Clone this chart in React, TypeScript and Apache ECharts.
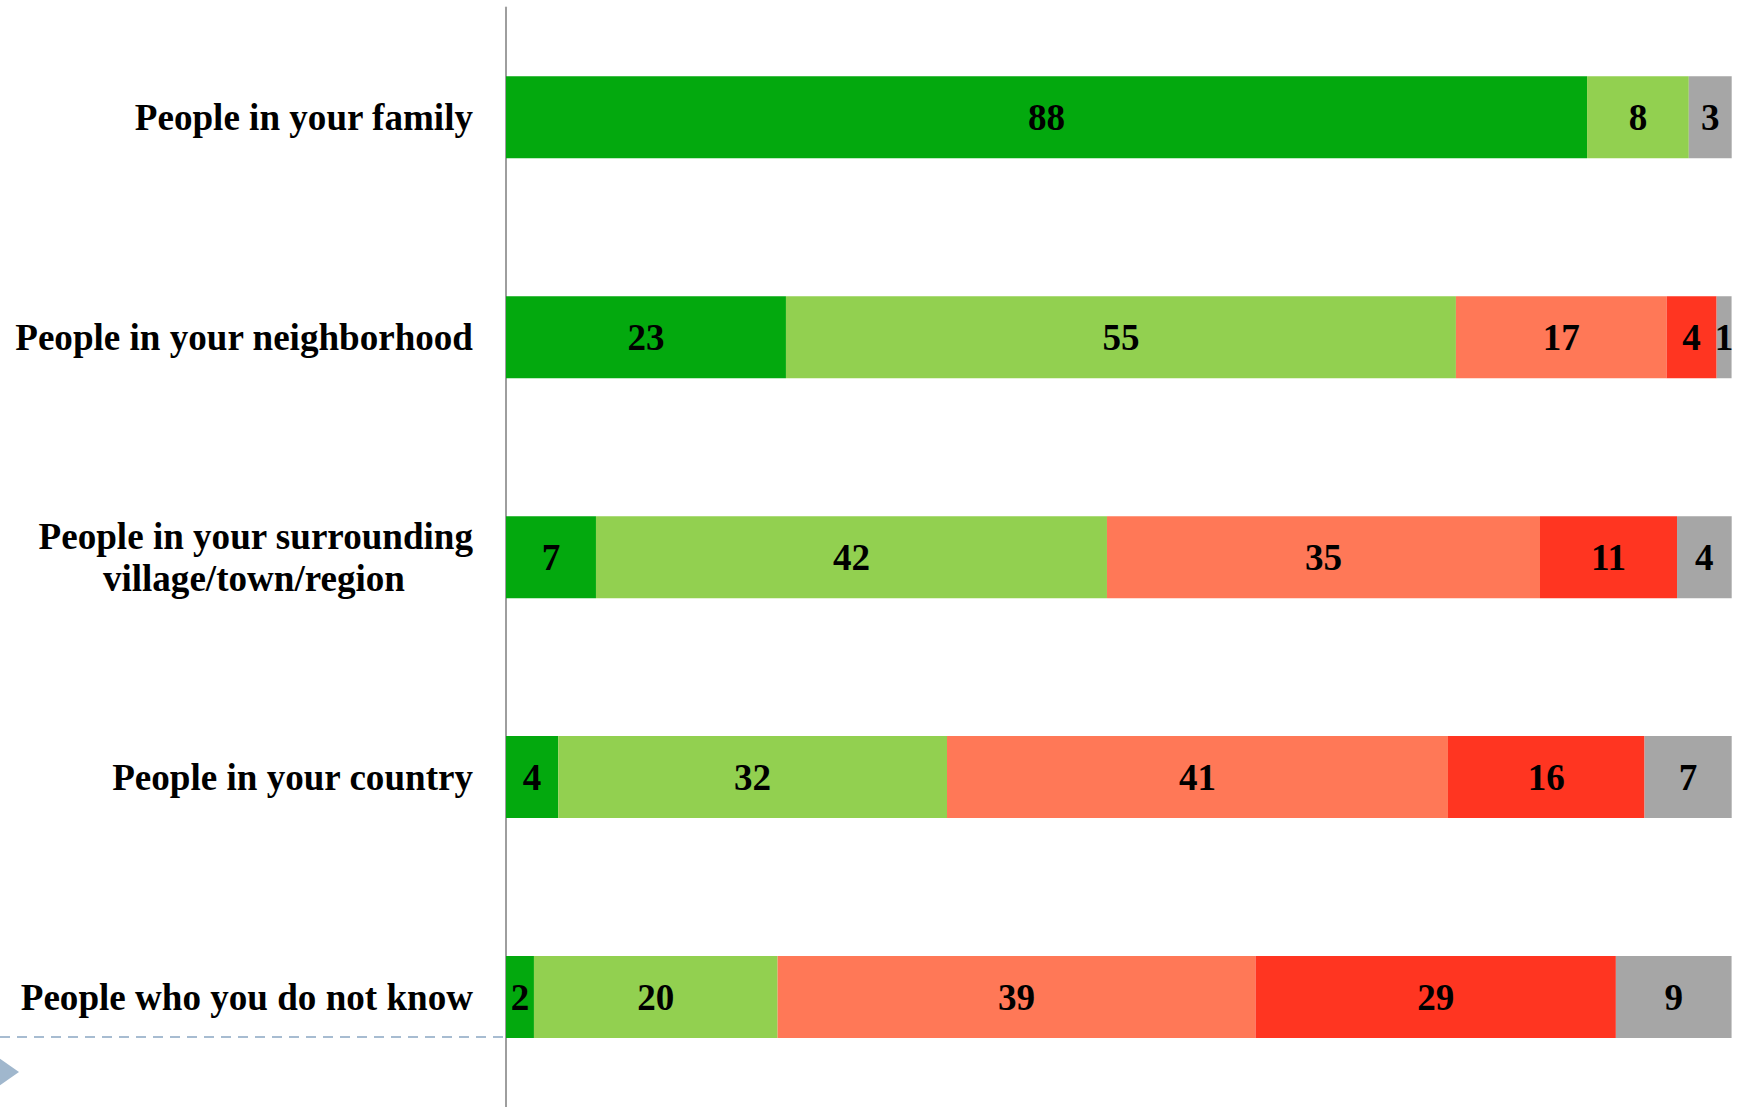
import React, { useEffect, useRef } from "react";
import * as echarts from "echarts";

const categories = [
  "People in your family",
  "People in your neighborhood",
  "People in your surrounding\nvillage/town/region",
  "People in your country",
  "People who you do not know",
];

// Segment shares (percent of each bar)
const trustCompletely = [88.2, 22.84, 7.34, 4.26, 2.28];
const trustSomewhat = [8.3, 54.66, 41.69, 31.72, 19.88];
const notVeryMuch = [null, 17.19, 35.33, 40.87, 38.99];
const notAtAll = [null, 4.08, 11.18, 16.04, 29.4];
const dontKnow = [3.5, 1.22, 4.46, 7.13, 9.44];

// Printed numbers on the segments
const trustCompletelyLabels = [88, 23, 7, 4, 2];
const trustSomewhatLabels = [8, 55, 42, 32, 20];
const notVeryMuchLabels = [null, 17, 35, 41, 39];
const notAtAllLabels = [null, 4, 11, 16, 29];
const dontKnowLabels = [3, 1, 4, 7, 9];

const seriesDefs = [
  { name: "Trust completely", data: trustCompletely, labels: trustCompletelyLabels, color: "#03A90E" },
  { name: "Trust somewhat", data: trustSomewhat, labels: trustSomewhatLabels, color: "#92D050" },
  { name: "Do not trust very much", data: notVeryMuch, labels: notVeryMuchLabels, color: "#FF7857" },
  { name: "Do not trust at all", data: notAtAll, labels: notAtAllLabels, color: "#FF3521" },
  { name: "Don't know", data: dontKnow, labels: dontKnowLabels, color: "#A6A6A6" },
];

const FONT = "'Liberation Serif', 'Times New Roman', serif";
const FS = 37.1;

export default function App() {
  const ref = useRef<HTMLDivElement>(null);

  useEffect(() => {
    document.body.style.margin = "0";
    const chart = echarts.init(ref.current!, null, { renderer: "svg" });
    chart.setOption({
      animation: false,
      backgroundColor: "#ffffff",
      grid: { left: 506, right: 10.3, top: 7.4, height: 1108, containLabel: false },
      xAxis: {
        type: "value",
        min: 0,
        max: 100,
        show: false,
      },
      yAxis: {
        type: "category",
        data: categories,
        inverse: true,
        axisLine: { show: true, lineStyle: { color: "#9E9E9E", width: 2 } },
        axisTick: { show: false },
        splitLine: { show: false },
        axisLabel: {
          margin: 33,
          color: "#000",
          fontFamily: FONT,
          fontWeight: "bold",
          fontSize: FS,
          lineHeight: 42,
          formatter: (v: string) => {
            if (v.indexOf("\n") >= 0) {
              const [a, b] = v.split("\n");
              return `{a|${a}}\n{b|${b}}`;
            }
            return v;
          },
          rich: {
            a: { fontFamily: FONT, fontWeight: "bold", fontSize: FS, lineHeight: 42, color: "#000" },
            b: {
              fontFamily: FONT,
              fontWeight: "bold",
              fontSize: FS,
              lineHeight: 42,
              color: "#000",
              padding: [0, 68, 0, 0],
            },
          },
        },
      },
      series: seriesDefs.map((s) => ({
        name: s.name,
        type: "bar",
        stack: "total",
        barWidth: 82,
        data: s.data,
        itemStyle: { color: s.color },
        label: {
          show: true,
          position: "inside",
          color: "#000",
          fontFamily: FONT,
          fontWeight: "bold",
          fontSize: FS,
          formatter: (p: any) => {
            const l = s.labels[p.dataIndex];
            return l === null || l === undefined ? "" : String(l);
          },
        },
      })),
      graphic: [
        {
          type: "line",
          shape: { x1: 0, y1: 1037, x2: 505, y2: 1037 },
          style: { stroke: "#A7BCD1", lineWidth: 2, lineDash: [10, 7] },
          silent: true,
        },
        {
          type: "polygon",
          shape: { points: [[-4, 1056], [19, 1072], [-4, 1088]] },
          style: { fill: "#A0B7CD" },
          silent: true,
        },
      ],
    });
    return () => chart.dispose();
  }, []);

  return (
    <div
      ref={ref}
      style={{ position: "absolute", left: 0, top: 0, width: 1742, height: 1107 }}
    />
  );
}
